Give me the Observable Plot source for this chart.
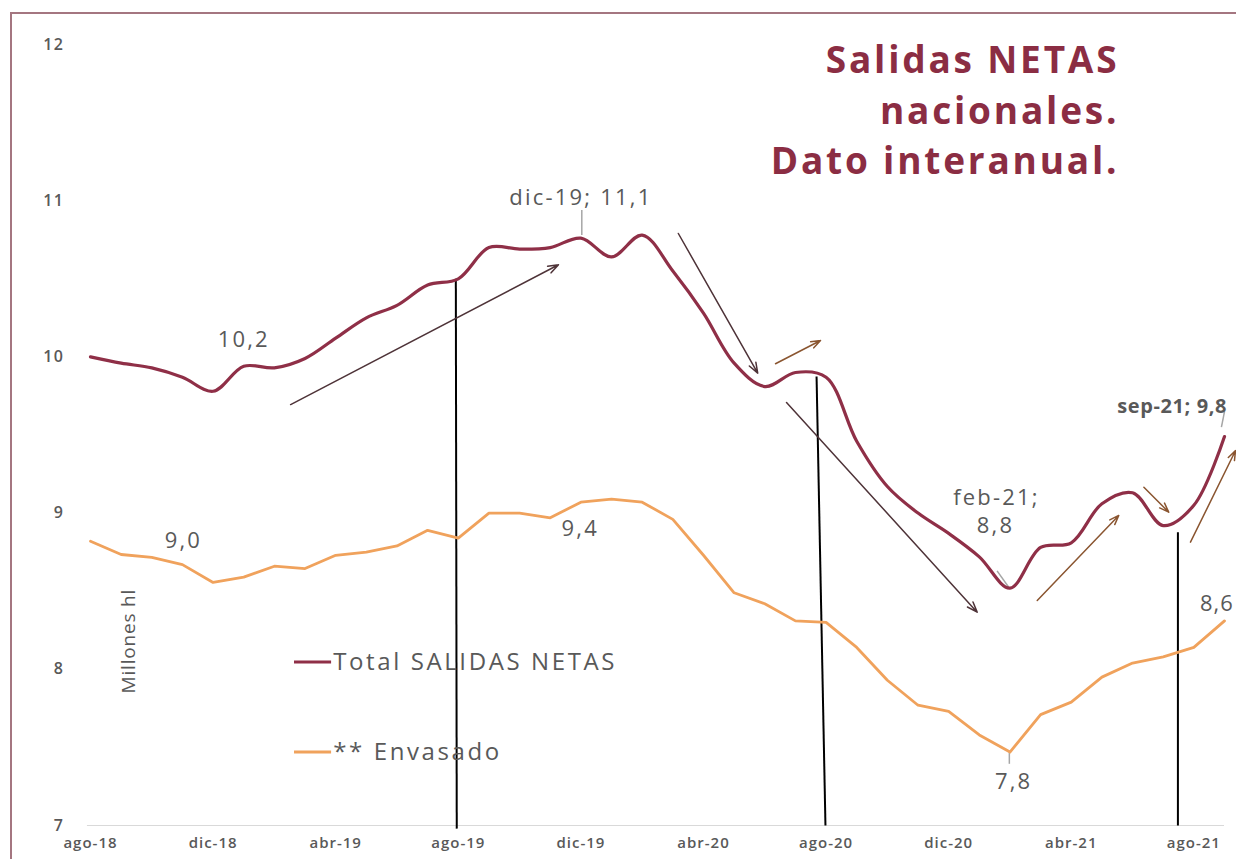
<!DOCTYPE html>
<html>
<head>
<meta charset="utf-8">
<script src="https://cdn.jsdelivr.net/npm/d3@7"></script>
<script src="https://cdn.jsdelivr.net/npm/@observablehq/plot@0.6"></script>
<style>
  html, body { margin: 0; padding: 0; background: #fff; overflow: hidden; }
  #wrap { position: relative; width: 1236px; height: 859px; overflow: hidden; }
  #frame { position: absolute; left: 10px; top: 12px; width: 1300px; height: 900px; border: 2px solid #a47680; box-sizing: border-box; }
  #chart { position: absolute; left: 0; top: 0; }
  #chart svg text { font-family: "Open Sans", sans-serif; }
</style>
</head>
<body>
<div id="wrap"><div id="frame"></div><div id="chart"></div></div>
<script>
// Month categories (ago-18 .. sep-21)
const months = ["ago-18","sep-18","oct-18","nov-18","dic-18","ene-19","feb-19","mar-19","abr-19","may-19","jun-19","jul-19",
  "ago-19","sep-19","oct-19","nov-19","dic-19","ene-20","feb-20","mar-20","abr-20","may-20","jun-20","jul-20",
  "ago-20","sep-20","oct-20","nov-20","dic-20","ene-21","feb-21","mar-21","abr-21","may-21","jun-21","jul-21",
  "ago-21","sep-21"];
// Total SALIDAS NETAS (millones hl, interanual)
const totalSalidas = [10.00, 9.96, 9.93, 9.87, 9.78, 9.94, 9.93, 9.99, 10.12, 10.25, 10.33, 10.46,
  10.50, 10.70, 10.69, 10.70, 10.76, 10.64, 10.78, 10.55, 10.28, 9.96, 9.81, 9.90,
  9.87, 9.46, 9.17, 9.00, 8.87, 8.72, 8.52, 8.78, 8.81, 9.06, 9.13, 8.92,
  9.05, 9.49];
// ** Envasado
const envasado = [8.82, 8.735, 8.716, 8.67, 8.556, 8.59, 8.66, 8.645, 8.73, 8.75, 8.79, 8.89,
  8.84, 9.00, 9.00, 8.97, 9.07, 9.09, 9.07, 8.96, 8.73, 8.49, 8.42, 8.31,
  8.30, 8.14, 7.93, 7.77, 7.73, 7.58, 7.47, 7.71, 7.79, 7.95, 8.04, 8.08,
  8.14, 8.31];
const xTicks = [0, 4, 8, 12, 16, 20, 24, 28, 32, 36];
const yTicks = [7, 8, 9, 10, 11, 12];
const seriesNames = ["Total SALIDAS NETAS", "** Envasado"];
const titleText = "Salidas NETAS\nnacionales.\nDato interanual.";

// Annotation arrows (in month-index / value coordinates)
const arrowsDark = [
  {x1: 6.53, y1: 9.695, x2: 15.27, y2: 10.59},
  {x1: 19.18, y1: 10.79, x2: 21.77, y2: 9.896},
  {x1: 22.71, y1: 9.708, x2: 28.93, y2: 8.366}
];
const arrowsBrown = [
  {x1: 22.35, y1: 9.956, x2: 23.82, y2: 10.105},
  {x1: 30.89, y1: 8.44, x2: 33.55, y2: 8.985},
  {x1: 34.37, y1: 9.166, x2: 35.18, y2: 9.006},
  {x1: 35.89, y1: 8.814, x2: 37.36, y2: 9.40}
];
const vLines = [
  {x1: 11.92, y1: 10.50, x2: 11.95, y2: 6.98},
  {x1: 23.69, y1: 9.875, x2: 23.98, y2: 7.0},
  {x1: 35.48, y1: 8.877, x2: 35.48, y2: 7.0}
];
const leaders = [
  {x1: 16.03, y1: 10.94, x2: 16.03, y2: 10.78},
  {x1: 29.58, y1: 8.63, x2: 29.96, y2: 8.525},
  {x1: 29.98, y1: 7.47, x2: 29.98, y2: 7.395},
  {x1: 37.0, y1: 9.65, x2: 36.9, y2: 9.55}
];
const dataLabels = [
  {x: 5.0, y: 10.11, text: "10,2"},
  {x: 16.0, y: 11.02, text: "dic-19; 11,1"},
  {x: 3.03, y: 8.82, text: "9,0"},
  {x: 15.98, y: 8.90, text: "9,4"},
  {x: 29.56, y: 9.10, text: "feb-21;"},
  {x: 29.53, y: 8.915, text: "8,8"},
  {x: 30.12, y: 7.28, text: "7,8"}
];

const totalData = months.map((m, i) => ({i, v: totalSalidas[i]}));
const envData = months.map((m, i) => ({i, v: envasado[i]}));

const maroon = "#8f2f47";
const orange = "#f0a25c";
const gray = "#595959";

const chart = Plot.plot({
  width: 1236,
  height: 859,
  marginLeft: 90,
  marginRight: 12,
  marginTop: 44,
  marginBottom: 34,
  x: {domain: [0, 37]},
  y: {domain: [7, 12]},
  marks: [
    Plot.ruleY([7], {stroke: "#d9d9d9", strokeWidth: 1.2, x1: -0.1, x2: 37}),
    Plot.axisY(yTicks, {tickSize: 0, tickPadding: 26, fontSize: 16, fill: gray, label: null, fontWeight: 600,
      tickFormat: d => String(d)}),
    Plot.axisX(xTicks, {tickSize: 0, tickPadding: 12, fontSize: 15, fill: gray, label: null, fontWeight: 600,
      tickFormat: i => months[i]}),
    // Vertical black annotation lines
    Plot.link(vLines, {x1: "x1", y1: "y1", x2: "x2", y2: "y2", stroke: "#000", strokeWidth: 2}),
    // Leader lines
    Plot.link(leaders, {x1: "x1", y1: "y1", x2: "x2", y2: "y2", stroke: "#a6a6a6", strokeWidth: 1.5}),
    // Series
    Plot.line(envData, {x: "i", y: "v", stroke: orange, strokeWidth: 2.8, curve: "linear"}),
    Plot.line(totalData, {x: "i", y: "v", stroke: maroon, strokeWidth: 3.2, curve: "catmull-rom"}),
    // Arrows
    Plot.arrow(arrowsDark, {x1: "x1", y1: "y1", x2: "x2", y2: "y2", stroke: "#4e3338", strokeWidth: 1.5, headLength: 11, headAngle: 40}),
    Plot.arrow(arrowsBrown, {x1: "x1", y1: "y1", x2: "x2", y2: "y2", stroke: "#8a5530", strokeWidth: 1.5, headLength: 10, headAngle: 40}),
    // Data labels
    Plot.text(dataLabels, {x: "x", y: "y", text: "text", fontSize: 22, fill: gray, textAnchor: "middle"}),
    Plot.text(["sep-21; 9,8"], {x: 33.5, y: 9.68, fontSize: 20, fontWeight: "bold", fill: gray, textAnchor: "start"}),
    Plot.text(["8,6"], {x: 36.2, y: 8.42, fontSize: 21.9, fill: gray, textAnchor: "start"}),
    // Axis title
    Plot.text(["Millones hl"], {x: 1.24, y: 8.18, rotate: -90, fontSize: 19, fill: gray}),
    // Legend
    Plot.link([{x1: 6.64, x2: 7.85, y: 8.047}], {x1: "x1", x2: "x2", y1: "y", y2: "y", stroke: maroon, strokeWidth: 3}),
    Plot.text([seriesNames[0]], {x: 7.92, y: 8.047, fontSize: 24, fill: gray, textAnchor: "start"}),
    Plot.link([{x1: 6.64, x2: 7.85, y: 7.471}], {x1: "x1", x2: "x2", y1: "y", y2: "y", stroke: orange, strokeWidth: 3}),
    Plot.text([seriesNames[1]], {x: 7.92, y: 7.471, fontSize: 24, fill: gray, textAnchor: "start"}),
    // Title
    Plot.text([titleText], {x: 33.57, y: 11.597, fontSize: 37, fontWeight: "bold", fill: "#8b2d43", textAnchor: "end",
      lineAnchor: "middle", lineHeight: 1.36})
  ]
});
// Wider letter spacing to match the reference's stretched text
const spacingBySize = {"19": 0.8, "20": 0.6, "21.9": 1.0, "22": 2.2, "24": 2.6, "37": 2.8};
chart.querySelectorAll("g[font-size]").forEach(g => {
  const s = spacingBySize[g.getAttribute("font-size")];
  if (s != null) g.style.letterSpacing = s + "px";
});
chart.querySelectorAll('g[aria-label="x-axis tick label"]').forEach(g => g.style.letterSpacing = "1px");
chart.querySelectorAll('g[aria-label="y-axis tick label"]').forEach(g => g.style.letterSpacing = "1.5px");
document.getElementById("chart").appendChild(chart);
</script>
</body>
</html>
